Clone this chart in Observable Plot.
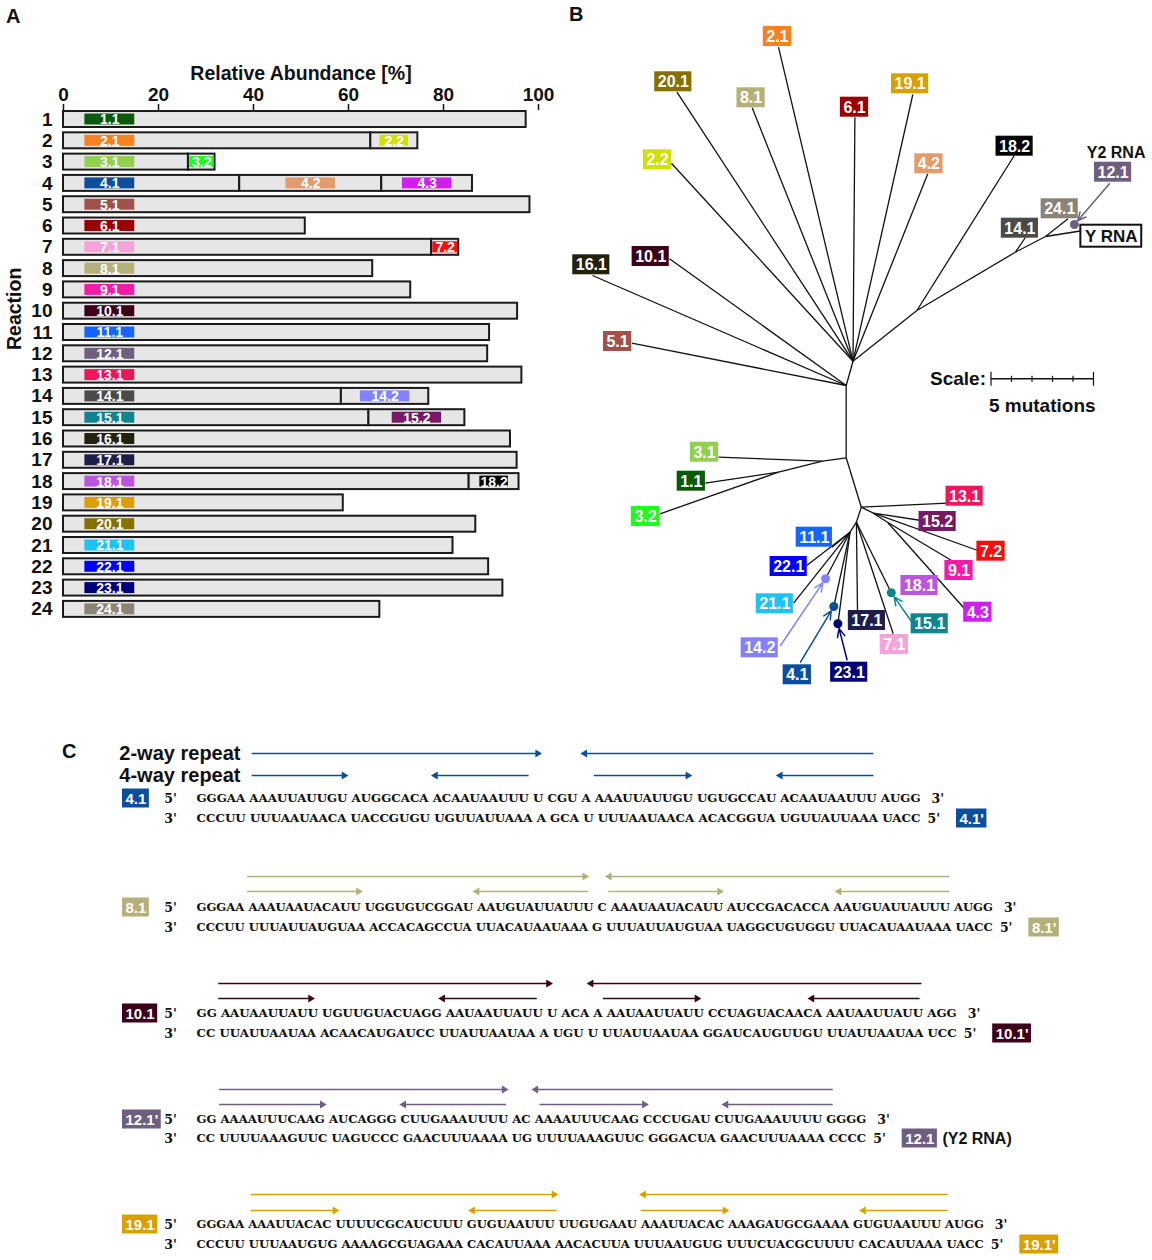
<!DOCTYPE html>
<html><head><meta charset="utf-8">
<script src="https://cdn.jsdelivr.net/npm/d3@7"></script>
<script src="https://cdn.jsdelivr.net/npm/@observablehq/plot@0.6"></script>
<style>
body{margin:0;background:#fff;font-family:"Liberation Sans",Arial,sans-serif;}
#root{position:relative;width:1152px;height:1260px;overflow:hidden;background:#fff}
.panel{position:absolute}
.letter{position:absolute;font:bold 20px "Liberation Sans",Arial,sans-serif;color:#111}
</style></head><body><div id="root"></div><script>
// ---------------- DATA ----------------
const reactions = d3.range(1, 25);
const species = ["1.1","2.1","2.2","3.1","3.2","4.1","4.2","4.3","5.1","6.1","7.1","7.2","8.1","9.1","10.1","11.1","12.1","13.1","14.1","14.2","15.1","15.2","16.1","17.1","18.1","18.2","19.1","20.1","21.1","22.1","23.1","24.1"];
// cumulative relative abundance [%] at the end of each species segment
const speciesEnd = [97.4, 64.7,74.6, 26.3,31.9, 37.1,67.0,86.1, 98.2, 50.9, 77.5,83.2, 65.1, 73.1, 95.6, 89.7, 89.3, 96.5, 58.5,76.9, 64.3,84.5, 94.1, 95.5, 85.4,95.9, 58.9, 86.8, 82.0, 89.5, 92.5, 66.6];
const speciesColor = ["#0b5a0b","#f58220","#d2e000","#92d050","#19ff19","#0b4f9c","#e39b6b","#d01ef0","#a0524a","#9b0000","#f5a3d8","#ff0a0a","#b5b07a","#f51aa8","#3c0018","#1464ff","#6e5f80","#f0145a","#4a4a4a","#8282ff","#0f8591","#781966","#23220f","#1e1e4b","#bb55dd","#000000","#d9a000","#857000","#1ec3f5","#0000ff","#00007d","#8a8478"];
const xTicks = [0, 20, 40, 60, 80, 100];

// tree (unrooted) node layout
const treeNodeId     = ["N3","N2","N1","Y1","Y2","Y3","N4","N5","N6","N7","N8","N9","N10",
  "2.1","20.1","8.1","6.1","19.1","2.2","4.2","18.2","14.1","24.1","Y RNA","10.1","16.1","5.1","3.1","1.1","3.2","13.1","15.2","7.2","9.1","4.3","11.1","22.1","21.1","14.2","4.1","23.1","17.1","7.1","15.1"];
const treeNodeX      = [845.7,845.7,852.5,916.4,1014.9,1045,822,778,860.8,872.8,887,855.9,849.5,
  778,676.5,751.7,854.4,912.3,670.9,927.3,1013.8,1026.2,1067.5,1083,669,592,631.4,717.9,704.7,659.6,947.2,920.9,977.3,951,964.1,831.4,806.2,793.1,825,833.3,837.4,857,892.7,890.8];
const treeNodeY      = [457.3,385,360.7,310,251.7,236,460.7,471.7,506.7,512.7,521.7,521.7,531.7,
  46.7,91.7,107.3,116.7,94,162.7,173.3,155,235,218.3,230,258.3,275,342.7,456.7,482.7,513.3,502.7,520,550,560,608.3,546.7,565,602.7,578.3,606,623.3,610,633.3,592.3];
const treeNodeParent = [null,"N3","N2","N1","Y1","Y2","N3","N4","N3","N6","N7","N6","N9",
  "N1","N1","N1","N1","N1","N1","N1","Y1","Y2","Y3","Y3","N2","N2","N2","N4","N5","N5","N6","N7","N7","N8","N8","N10","N10","N10","N10","N10","N10","N9","N9","N9"];
// tree label boxes
const treeLabel  = ["2.1","20.1","8.1","6.1","19.1","2.2","4.2","18.2","12.1","24.1","14.1","10.1","16.1","5.1","3.1","1.1","3.2","13.1","15.2","7.2","9.1","4.3","18.1","15.1","7.1","17.1","23.1","4.1","14.2","21.1","22.1","11.1"];
const treeLabelX = [776.9,672.8,750.6,854,909.6,657,928.4,1014.1,1112.6,1059.2,1019.4,650.2,590.8,617.1,704,690.8,645,964.1,937.1,990.5,958.5,977.3,919,929.2,893.8,866.4,848.7,796.8,759.2,774.3,788.2,813.8];
const treeLabelY = [36,81.3,97.3,106.7,83.3,159.3,163.3,145.7,171.7,208.3,227.7,256,264.3,341,451.7,480.7,516,495.7,521,550.7,570,611.7,585,623.3,644,620,671.7,674.3,647.3,603.3,566,536.7];
// marked positions and pointer arrows
const dotSpecies = ["12.1","14.2","4.1","23.1","15.1"];
const dotX = [1073.9,825,833.3,837.4,890.8];
const dotY = [224,578.3,606,623.3,592.3];
const pointerFromX = [1108.9,780,800,846.5,911.5];
const pointerFromY = [183.3,645,661.7,659.3,621.7];
const scaleMutations = [0,1,2,3,4,5];

// panel C sequences
const seqLeftTag  = ["4.1","8.1","10.1","12.1'","19.1"];
const seqRightTag = ["4.1'","8.1'","10.1'","12.1","19.1'"];
const seqColor    = ["#0b4f9c","#b5b07a","#3c0018","#6e5f80","#d9a000"];
const seqTop = [
 "GGGAA AAAUUAUUGU AUGGCACA ACAAUAAUUU U CGU A AAAUUAUUGU UGUGCCAU ACAAUAAUUU AUGG",
 "GGGAA AAAUAAUACAUU UGGUGUCGGAU AAUGUAUUAUUU C AAAUAAUACAUU AUCCGACACCA AAUGUAUUAUUU AUGG",
 "GG AAUAAUUAUU UGUUGUACUAGG AAUAAUUAUU U ACA A AAUAAUUAUU CCUAGUACAACA AAUAAUUAUU AGG",
 "GG AAAAUUUCAAG AUCAGGG CUUGAAAUUUU AC AAAAUUUCAAG CCCUGAU CUUGAAAUUUU GGGG",
 "GGGAA AAAUUACAC UUUUCGCAUCUUU GUGUAAUUU UUGUGAAU AAAUUACAC AAAGAUGCGAAAA GUGUAAUUU AUGG"];
const seqBottom = [
 "CCCUU UUUAAUAACA UACCGUGU UGUUAUUAAA A GCA U UUUAAUAACA ACACGGUA UGUUAUUAAA UACC",
 "CCCUU UUUAUUAUGUAA ACCACAGCCUA UUACAUAAUAAA G UUUAUUAUGUAA UAGGCUGUGGU UUACAUAAUAAA UACC",
 "CC UUAUUAAUAA ACAACAUGAUCC UUAUUAAUAA A UGU U UUAUUAAUAA GGAUCAUGUUGU UUAUUAAUAA UCC",
 "CC UUUUAAAGUUC UAGUCCC GAACUUUAAAA UG UUUUAAAGUUC GGGACUA GAACUUUAAAA CCCC",
 "CCCUU UUUAAUGUG AAAAGCGUAGAAA CACAUUAAA AACACUUA UUUAAUGUG UUUCUACGCUUUU CACAUUAAA UACC"];
// repeat arrows, [from, to] in sequence character positions
const twoWayArrows = [
 [[6.1,38.3],[74.8,42.3]],
 [[5.6,43.5],[83.2,45.0]],
 [[2.4,39.5],[80.1,43.0]],
 [[2.5,34.6],[70.3,36.9]],
 [[6.0,40.1],[83.0,48.8]]];
const fourWayArrows = [
 [[6.1,16.9],[36.7,25.8],[43.9,54.9],[74.8,63.9]],
 [[5.6,18.5],[43.3,30.4],[45.5,58.4],[83.2,70.4]],
 [[2.4,13.2],[37.6,26.6],[44.9,55.9],[79.9,67.4]],
 [[2.5,14.5],[34.2,22.3],[37.9,50.1],[70.3,57.9]],
 [[6.0,15.9],[39.8,29.9],[49.1,59.0],[83.0,73.1]]];

// ---------------- HELPERS ----------------
const SANS = "'Liberation Sans', Arial, sans-serif";
const SERIF = "'DejaVu Serif', 'Liberation Serif', serif";
const ctx = document.createElement("canvas").getContext("2d");
function tw(s, font) { ctx.font = font; return ctx.measureText(s).width; }
const root = document.getElementById("root");
function place(el, left, top) { const d = document.createElement("div"); d.className = "panel"; d.style.left = left + "px"; d.style.top = top + "px"; d.appendChild(el); root.appendChild(d); }
function letter(t, left, top) { const d = document.createElement("div"); d.className = "letter"; d.textContent = t; d.style.left = left + "px"; d.style.top = top + "px"; root.appendChild(d); }

// ---------------- PANEL A ----------------
const segs = species.map((s, i) => {
  const r = +s.split(".")[0];
  const prevSame = i > 0 && +species[i-1].split(".")[0] === r;
  const x1 = prevSame ? speciesEnd[i-1] : 0, x2 = speciesEnd[i];
  let b1, b2;
  if (!prevSame) { b1 = 4.5; b2 = 15; }
  else { const w = x2 - x1, bw = w > 12 ? 10.4 : Math.min(w - 0.5, 6), c = (x1 + x2) / 2; b1 = c - bw/2; b2 = c + bw/2; }
  return {species: s, reaction: r, x1, x2, b1, b2, color: speciesColor[i]};
});

const plotA = Plot.plot({
  width: 560, height: 630,
  marginTop: 109, marginLeft: 63, marginRight: 22, marginBottom: 0,
  style: {fontFamily: SANS, fontWeight: "bold", fontSize: "18px", color: "#111", background: "transparent"},
  x: {domain: [0, 100], range: [63, 538]},
  y: {domain: reactions, range: [105.7, 622.2], padding: 0.25, round: false},
  color: {type: "identity"},
  marks: [
    Plot.axisX({anchor: "top", ticks: xTicks, tickSize: 6, tickPadding: 3, label: null, fontSize: 19, fontWeight: "bold", strokeWidth: 1.5}),
    Plot.axisY({anchor: "left", tickSize: 0, tickPadding: 11, label: null, fontSize: 19, fontWeight: "bold"}),
    Plot.barX(segs, {y: "reaction", x1: "x1", x2: "x2", fill: "#e6e6e6", stroke: "#1a1a1a", strokeWidth: 2}),
    Plot.barX(segs, {y: "reaction", x1: "b1", x2: "b2", fill: "color", insetTop: 2.5, insetBottom: 2.5}),
    Plot.text(segs, {y: "reaction", x: d => (d.b1 + d.b2) / 2, text: "species", fill: "white", fontSize: 14, fontWeight: "bold", dy: 0.5}),
    Plot.text(["Relative Abundance [%]"], {text: d => d, frameAnchor: "top", lineAnchor: "middle", dy: -36, fontSize: 19.5, fontWeight: "bold"}),
    Plot.text(["Reaction"], {text: d => d, frameAnchor: "left", dx: -49, dy: -20, rotate: -90, fontSize: 19.5, fontWeight: "bold"})
  ]
});
place(plotA, 0, 0);

// ---------------- PANEL B ----------------
const nodeIndex = new Map(treeNodeId.map((id, i) => [id, i]));
const edges = treeNodeId.map((id, i) => {
  const p = treeNodeParent[i];
  if (p == null) return null;
  const j = nodeIndex.get(p);
  return {x1: treeNodeX[j], y1: treeNodeY[j], x2: treeNodeX[i], y2: treeNodeY[i]};
}).filter(d => d);
const colorOf = new Map(species.map((s, i) => [s, speciesColor[i]]));
const BFONT = "bold 16px 'Liberation Sans'";
const tLabels = treeLabel.map((s, i) => {
  const w = tw(s, BFONT) + 6;
  return {s, x: treeLabelX[i], y: treeLabelY[i], x1: treeLabelX[i] - w/2, x2: treeLabelX[i] + w/2, y1: treeLabelY[i] - 10, y2: treeLabelY[i] + 10, color: colorOf.get(s)};
});
const tDots = dotSpecies.map((s, i) => ({x: dotX[i], y: dotY[i], color: colorOf.get(s), fx: pointerFromX[i], fy: pointerFromY[i]}));
const yRna = [{s: "Y RNA", x: 1110.8, y: 235.7}];
const yW = tw("Y RNA", "bold 17px 'Liberation Sans'") + 8;
const PX_PER_MUT = 20.5, SCALE_X0 = 990.5, SCALE_Y = 378.3;
const scaleTicks = scaleMutations.map(m => ({x: SCALE_X0 + m * PX_PER_MUT, end: m === 0 || m === 5}));

const plotB = Plot.plot({
  width: 592, height: 700, margin: 0,
  style: {fontFamily: SANS, fontWeight: "bold", background: "transparent"},
  x: {domain: [560, 1152], range: [0, 592], axis: null},
  y: {domain: [0, 700], range: [0, 700], axis: null},
  color: {type: "identity"},
  marks: [
    Plot.link(edges, {x1: "x1", y1: "y1", x2: "x2", y2: "y2", stroke: "#111", strokeWidth: 1.3}),
    Plot.arrow(tDots, {x1: "fx", y1: "fy", x2: "x", y2: "y", stroke: "color", strokeWidth: 1.5, headLength: 9, headAngle: 50, insetEnd: 5}),
    Plot.dot(tDots, {x: "x", y: "y", r: 4.5, fill: "color"}),
    Plot.rect(tLabels, {x1: "x1", x2: "x2", y1: "y1", y2: "y2", fill: "color"}),
    Plot.text(tLabels, {x: "x", y: "y", text: "s", fill: "white", fontSize: 16, fontWeight: "bold", dy: 0.5}),
    Plot.rect(yRna, {x1: d => d.x - yW/2, x2: d => d.x + yW/2, y1: d => d.y - 11, y2: d => d.y + 11, fill: "white", stroke: "#111", strokeWidth: 2}),
    Plot.text(yRna, {x: "x", y: "y", text: "s", fill: "#111", fontSize: 17, fontWeight: "bold", dy: 0.5}),
    Plot.text(["Y2 RNA"], {text: d => d, x: () => 1115.6, y: () => 152.7, fill: "#111", fontSize: 16, fontWeight: "bold"}),
    // scale bar
    Plot.link([scaleTicks[0]], {x1: "x", x2: () => SCALE_X0 + 5 * PX_PER_MUT, y1: () => SCALE_Y, y2: () => SCALE_Y, stroke: "#111", strokeWidth: 1.6}),
    Plot.link(scaleTicks, {x1: "x", x2: "x", y1: d => SCALE_Y - (d.end ? 7 : 3), y2: d => SCALE_Y + (d.end ? 7 : 3), stroke: "#111", strokeWidth: 1.2}),
    Plot.text(["Scale:"], {text: d => d, x: () => SCALE_X0, y: () => SCALE_Y, dx: -5, textAnchor: "end", fontSize: 19, fontWeight: "bold", fill: "#111"}),
    Plot.text(["5 mutations"], {text: d => d, x: () => SCALE_X0 + 2.5 * PX_PER_MUT, y: () => SCALE_Y, dy: 27, fontSize: 19, fontWeight: "bold", fill: "#111"})
  ]
});
place(plotB, 560, 0);

// ---------------- PANEL C ----------------
const PITCH = 9.05;            // px per sequence character
const SEQ_FS = 12.5;
const C_ROWS = [[753,775,798,818],[876,891,907,927],[983,998,1013,1033],[1089,1104,1119,1138],[1194,1210,1224,1244]];
const LFONT = "bold 15px 'Liberation Sans'";
function fitSize(s) {
  const w = tw(s, `bold ${SEQ_FS}px 'DejaVu Serif'`);
  return SEQ_FS * Math.min(1, (s.length * PITCH) / w) * 0.99;
}
const blocks = seqTop.map((t, i) => {
  const L = t.length;
  const lw = (tw(seqLeftTag[i], LFONT) + 6) / PITCH;
  const rw = (tw(seqRightTag[i], LFONT) + 6) / PITCH;
  const lx1 = -74 / PITCH, rx1 = L + 36 / PITCH;
  return {i, top: t, bottom: seqBottom[i], L, color: seqColor[i],
    fsTop: fitSize(t), fsBot: fitSize(seqBottom[i]),
    yr2: C_ROWS[i][0], yr4: C_ROWS[i][1], yt: C_ROWS[i][2], yb: C_ROWS[i][3],
    ltag: seqLeftTag[i], rtag: seqRightTag[i], lx1, lx2: lx1 + lw, rx1, rx2: rx1 + rw};
});
const arrows = [];
blocks.forEach(b => {
  twoWayArrows[b.i].forEach(([a, z]) => arrows.push({x1: a, x2: z, y: b.yr2, color: b.color}));
  fourWayArrows[b.i].forEach(([a, z]) => arrows.push({x1: a, x2: z, y: b.yr4, color: b.color}));
});
const rightA = arrows.filter(d => d.x2 > d.x1), leftA = arrows.filter(d => d.x2 < d.x1);
const TIP = 0.5;

const plotC = Plot.plot({
  width: 1152, height: 530, margin: 0,
  style: {fontFamily: SANS, background: "transparent"},
  x: {domain: [0, 100], range: [196, 196 + 100 * PITCH], axis: null},
  y: {domain: [730, 1260], range: [0, 530], axis: null},
  color: {type: "identity"},
  marks: [
    Plot.text(["2-way repeat", "4-way repeat"], {text: d => d, x: () => 0, y: (d, i) => C_ROWS[0][i], dx: 44, textAnchor: "end", fontSize: 20, fontWeight: "bold", fill: "#111"}),
    Plot.link(arrows, {x1: "x1", x2: d => d.x2 - Math.sign(d.x2 - d.x1) * TIP, y1: "y", y2: "y", stroke: "color", strokeWidth: 1.7}),
    Plot.dot(rightA, {x: "x2", y: "y", symbol: "triangle2", rotate: 90, r: 3.7, fill: "color", dx: -5.5}),
    Plot.dot(leftA, {x: "x2", y: "y", symbol: "triangle2", rotate: -90, r: 3.7, fill: "color", dx: 5.5}),
    // tags
    Plot.rect(blocks, {x1: "lx1", x2: "lx2", y1: d => d.yt - 9.5, y2: d => d.yt + 9.5, fill: "color"}),
    Plot.text(blocks, {x: d => (d.lx1 + d.lx2) / 2, y: "yt", text: "ltag", fill: "white", fontSize: 15, fontWeight: "bold", dy: 0.5}),
    Plot.rect(blocks, {x1: "rx1", x2: "rx2", y1: d => d.yb - 9.5, y2: d => d.yb + 9.5, fill: "color"}),
    Plot.text(blocks, {x: d => (d.rx1 + d.rx2) / 2, y: "yb", text: "rtag", fill: "white", fontSize: 15, fontWeight: "bold", dy: 0.5}),
    Plot.text(blocks.filter(d => d.rtag === "12.1"), {x: "rx2", y: "yb", text: () => "(Y2 RNA)", dx: 5, textAnchor: "start", fill: "#111", fontSize: 16, fontWeight: "bold"}),
    // strand ends
    Plot.text(blocks, {x: () => 0, y: "yt", text: () => "5'", dx: -26, fontFamily: SERIF, fontWeight: "bold", fontSize: 12.5, fill: "#111"}),
    Plot.text(blocks, {x: () => 0, y: "yb", text: () => "3'", dx: -26, fontFamily: SERIF, fontWeight: "bold", fontSize: 12.5, fill: "#111"}),
    Plot.text(blocks, {x: "L", y: "yt", text: () => "3'", dx: 11, textAnchor: "start", fontFamily: SERIF, fontWeight: "bold", fontSize: 12.5, fill: "#111"}),
    Plot.text(blocks, {x: "L", y: "yb", text: () => "5'", dx: 7, textAnchor: "start", fontFamily: SERIF, fontWeight: "bold", fontSize: 12.5, fill: "#111"}),
    // sequences
    Plot.text(blocks, {x: () => 0, y: "yt", text: "top", textAnchor: "start", fontFamily: SERIF, fontWeight: "bold", fontSize: d => d.fsTop, fill: "#111"}),
    Plot.text(blocks, {x: () => 0, y: "yb", text: "bottom", textAnchor: "start", fontFamily: SERIF, fontWeight: "bold", fontSize: d => d.fsBot, fill: "#111"})
  ]
});
plotC.querySelectorAll("text").forEach(t => {
  const s = t.textContent;
  if (s.length > 30) { t.setAttribute("textLength", (s.length * PITCH).toFixed(1)); t.setAttribute("lengthAdjust", "spacingAndGlyphs"); }
});
place(plotC, 0, 730);

letter("A", 6, 5);
letter("B", 569, 3);
letter("C", 62, 740);
</script></body></html>
